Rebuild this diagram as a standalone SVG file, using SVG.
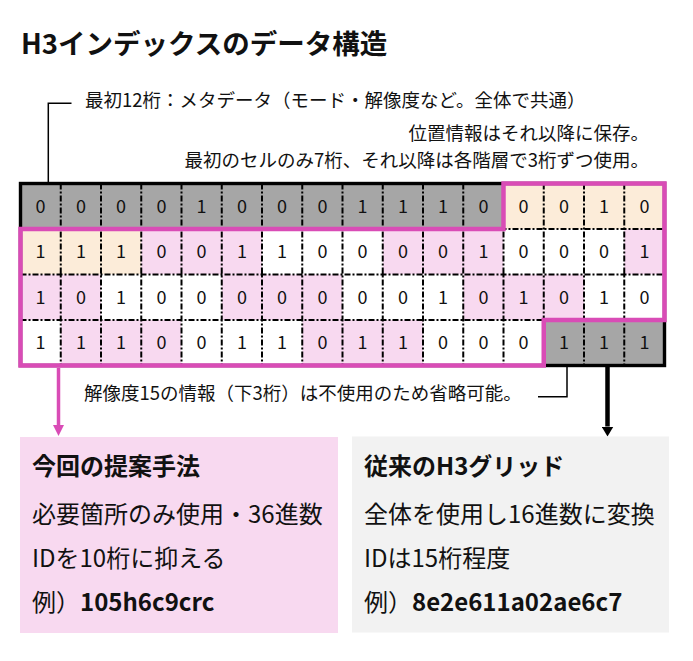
<svg xmlns="http://www.w3.org/2000/svg" width="693" height="661" viewBox="0 0 693 661">
<style>
text{font-family:"Noto Sans CJK JP","Noto Sans",sans-serif;fill:#111}
.t{font-size:27.5px;font-weight:700}
.a{font-size:18.5px}
.d{font-size:18px;text-anchor:middle}
.bx{font-size:24px}
.b{font-weight:700}
.G{fill:#a6a6a6}.B{fill:#fcecd9}.P{fill:#f8d9f0}.W{fill:#ffffff}
.dl{stroke:#000;stroke-width:2;stroke-dasharray:6 2 2 2;fill:none}
.ld{stroke:#000;stroke-width:1.5;fill:none}
</style>
<defs>
<marker id="ahP" markerUnits="userSpaceOnUse" viewBox="0 0 11 11" markerWidth="11" markerHeight="11" refX="0" refY="5.5" orient="auto"><path d="M0,0 L11,5.5 L0,11 Z" fill="#d94cb6"/></marker>
<marker id="ahK" markerUnits="userSpaceOnUse" viewBox="0 0 10 12" markerWidth="10" markerHeight="12" refX="0" refY="6" orient="auto"><path d="M0,0 L10,6 L0,12 Z" fill="#000"/></marker>
</defs>
<rect width="693" height="661" fill="#fff"/>
<text class="t" x="21" y="54">H3インデックスのデータ構造</text>
<g id="notes">
<text class="a" x="85" y="106.5">最初12桁：メタデータ（モード・解像度など。全体で共通）</text>
<text class="a" x="649" y="140" text-anchor="end">位置情報はそれ以降に保存。</text>
<text class="a" x="649" y="166.5" text-anchor="end">最初のセルのみ7桁、それ以降は各階層で3桁ずつ使用。</text>
<text class="a" x="84" y="400">解像度15の情報（下3桁）は不使用のため省略可能。</text>
</g>
<g id="grid">
<g id="cells">
<rect class="G" x="20.5" y="183.5" width="483" height="45.5"/>
<rect class="B" x="503.5" y="183.5" width="161" height="45.5"/>
<rect class="B" x="20.5" y="229" width="120.75" height="45.5"/>
<rect class="P" x="141.25" y="229" width="120.75" height="45.5"/>
<rect class="W" x="262" y="229" width="120.75" height="45.5"/>
<rect class="P" x="382.75" y="229" width="120.75" height="45.5"/>
<rect class="W" x="503.5" y="229" width="120.75" height="45.5"/>
<rect class="P" x="624.25" y="229" width="40.25" height="45.5"/>
<rect class="P" x="20.5" y="274.5" width="80.5" height="45.5"/>
<rect class="W" x="101" y="274.5" width="120.75" height="45.5"/>
<rect class="P" x="221.75" y="274.5" width="120.75" height="45.5"/>
<rect class="W" x="342.5" y="274.5" width="120.75" height="45.5"/>
<rect class="P" x="463.25" y="274.5" width="120.75" height="45.5"/>
<rect class="W" x="584" y="274.5" width="80.5" height="45.5"/>
<rect class="W" x="20.5" y="320" width="40.25" height="45.5"/>
<rect class="P" x="60.75" y="320" width="120.75" height="45.5"/>
<rect class="W" x="181.5" y="320" width="120.75" height="45.5"/>
<rect class="P" x="302.25" y="320" width="120.75" height="45.5"/>
<rect class="W" x="423" y="320" width="120.75" height="45.5"/>
<rect class="G" x="543.75" y="320" width="120.75" height="45.5"/>
</g>
<path class="dl" d="M60.75,183.5V365.5M101,183.5V365.5M141.25,183.5V365.5M181.5,183.5V365.5M221.75,183.5V365.5M262,183.5V365.5M302.25,183.5V365.5M342.5,183.5V365.5M382.75,183.5V365.5M423,183.5V365.5M463.25,183.5V365.5M503.5,183.5V365.5M543.75,183.5V365.5M584,183.5V365.5M624.25,183.5V365.5M20.5,229H664.5M20.5,274.5H664.5M20.5,320H664.5"/>
<rect x="20.5" y="183.5" width="644" height="182" fill="none" stroke="#000" stroke-width="3.4"/>
<path d="M503.5,183.5H664.5V320H543.75V365.5H20.5V229H503.5Z" fill="none" stroke="#d94cb6" stroke-width="4.5"/>
<g id="digits">
<text class="d" x="40.6" y="212.5">0</text><text class="d" x="80.9" y="212.5">0</text><text class="d" x="121.1" y="212.5">0</text><text class="d" x="161.4" y="212.5">0</text><text class="d" x="201.6" y="212.5">1</text><text class="d" x="241.9" y="212.5">0</text><text class="d" x="282.1" y="212.5">0</text><text class="d" x="322.4" y="212.5">0</text><text class="d" x="362.6" y="212.5">1</text><text class="d" x="402.9" y="212.5">1</text><text class="d" x="443.1" y="212.5">1</text><text class="d" x="483.4" y="212.5">0</text><text class="d" x="523.6" y="212.5">0</text><text class="d" x="563.9" y="212.5">0</text><text class="d" x="604.1" y="212.5">1</text><text class="d" x="644.4" y="212.5">0</text>
<text class="d" x="40.6" y="258">1</text><text class="d" x="80.9" y="258">1</text><text class="d" x="121.1" y="258">1</text><text class="d" x="161.4" y="258">0</text><text class="d" x="201.6" y="258">0</text><text class="d" x="241.9" y="258">1</text><text class="d" x="282.1" y="258">1</text><text class="d" x="322.4" y="258">0</text><text class="d" x="362.6" y="258">0</text><text class="d" x="402.9" y="258">0</text><text class="d" x="443.1" y="258">0</text><text class="d" x="483.4" y="258">1</text><text class="d" x="523.6" y="258">0</text><text class="d" x="563.9" y="258">0</text><text class="d" x="604.1" y="258">0</text><text class="d" x="644.4" y="258">1</text>
<text class="d" x="40.6" y="303.5">1</text><text class="d" x="80.9" y="303.5">0</text><text class="d" x="121.1" y="303.5">1</text><text class="d" x="161.4" y="303.5">0</text><text class="d" x="201.6" y="303.5">0</text><text class="d" x="241.9" y="303.5">0</text><text class="d" x="282.1" y="303.5">0</text><text class="d" x="322.4" y="303.5">0</text><text class="d" x="362.6" y="303.5">0</text><text class="d" x="402.9" y="303.5">0</text><text class="d" x="443.1" y="303.5">1</text><text class="d" x="483.4" y="303.5">0</text><text class="d" x="523.6" y="303.5">1</text><text class="d" x="563.9" y="303.5">0</text><text class="d" x="604.1" y="303.5">1</text><text class="d" x="644.4" y="303.5">0</text>
<text class="d" x="40.6" y="349">1</text><text class="d" x="80.9" y="349">1</text><text class="d" x="121.1" y="349">1</text><text class="d" x="161.4" y="349">0</text><text class="d" x="201.6" y="349">0</text><text class="d" x="241.9" y="349">1</text><text class="d" x="282.1" y="349">1</text><text class="d" x="322.4" y="349">0</text><text class="d" x="362.6" y="349">1</text><text class="d" x="402.9" y="349">1</text><text class="d" x="443.1" y="349">0</text><text class="d" x="483.4" y="349">0</text><text class="d" x="523.6" y="349">0</text><text class="d" x="563.9" y="349">1</text><text class="d" x="604.1" y="349">1</text><text class="d" x="644.4" y="349">1</text>
</g>
</g>
<g id="connectors">
<path class="ld" d="M71.5,103.3H48.3V183.5"/>
<path class="ld" d="M538,396.7H567V367"/>
<line x1="58.5" y1="368" x2="58.5" y2="425" stroke="#d94cb6" stroke-width="3.5" marker-end="url(#ahP)"/>
<line x1="607.5" y1="367" x2="607.5" y2="426.5" stroke="#000" stroke-width="4.5" marker-end="url(#ahK)"/>
</g>
<g id="proposed">
<rect x="20" y="437" width="318" height="196" fill="#f8d9f0"/>
<text class="bx b" x="32" y="475">今回の提案手法</text>
<text class="bx" x="32" y="522.5">必要箇所のみ使用・36進数</text>
<text class="bx" x="32" y="566.5">IDを10桁に抑える</text>
<text class="bx" x="32" y="611">例）<tspan class="b">105h6c9crc</tspan></text>
</g>
<g id="conventional">
<rect x="352" y="436.5" width="317" height="196" fill="#f2f2f2"/>
<text class="bx b" x="364" y="475">従来のH3グリッド</text>
<text class="bx" x="364" y="522.5">全体を使用し16進数に変換</text>
<text class="bx" x="364" y="566.5">IDは15桁程度</text>
<text class="bx" x="364" y="611">例）<tspan class="b">8e2e611a02ae6c7</tspan></text>
</g>
</svg>
